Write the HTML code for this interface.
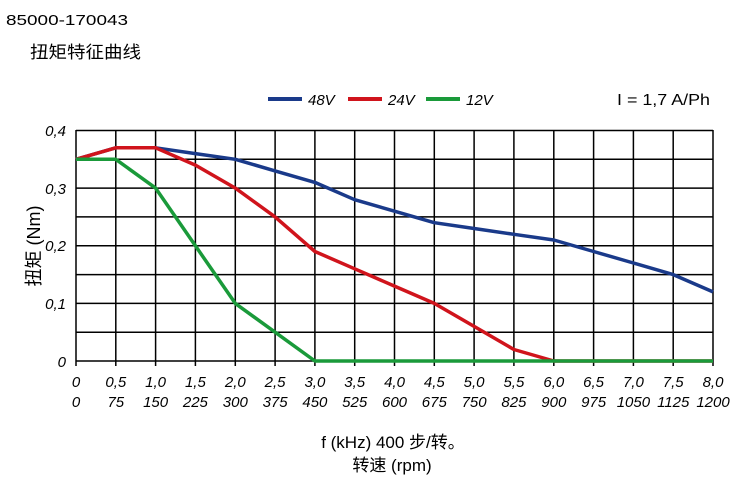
<!DOCTYPE html>
<html><head><meta charset="utf-8"><style>
body{margin:0;background:#fff;}
svg text{font-family:"Liberation Sans","Noto Sans CJK SC",sans-serif;fill:#000;}
.it{font-style:italic;font-size:15px;}
</style></head><body>
<svg width="750" height="493" xmlns="http://www.w3.org/2000/svg">
<text x="6" y="25" font-size="15" textLength="122" lengthAdjust="spacingAndGlyphs">85000-170043</text>
<text x="30" y="58" font-size="17" textLength="111" lengthAdjust="spacingAndGlyphs">扭矩特征曲线</text>
<line x1="268" y1="99" x2="302" y2="99" stroke="#1a3a8a" stroke-width="4"/>
<text x="308" y="105" class="it" font-size="16">48V</text>
<line x1="348" y1="99" x2="382" y2="99" stroke="#d0141c" stroke-width="4"/>
<text x="388" y="105" class="it" font-size="16">24V</text>
<line x1="426" y1="99" x2="460" y2="99" stroke="#1a9a3a" stroke-width="4"/>
<text x="466" y="105" class="it" font-size="16">12V</text>
<text x="617" y="105" font-size="16" textLength="93" lengthAdjust="spacingAndGlyphs">I = 1,7 A/Ph</text>
<g stroke="#000" stroke-width="1.5" fill="none">
<line x1="76" y1="130.5" x2="713" y2="130.5"/>
<line x1="76" y1="159.3" x2="713" y2="159.3"/>
<line x1="76" y1="188.1" x2="713" y2="188.1"/>
<line x1="76" y1="216.9" x2="713" y2="216.9"/>
<line x1="76" y1="245.8" x2="713" y2="245.8"/>
<line x1="76" y1="274.6" x2="713" y2="274.6"/>
<line x1="76" y1="303.4" x2="713" y2="303.4"/>
<line x1="76" y1="332.2" x2="713" y2="332.2"/>
<line x1="76" y1="361" x2="713" y2="361"/>
<line x1="76" y1="130" x2="76" y2="366"/>
<line x1="115.8" y1="130" x2="115.8" y2="366"/>
<line x1="155.6" y1="130" x2="155.6" y2="366"/>
<line x1="195.4" y1="130" x2="195.4" y2="366"/>
<line x1="235.3" y1="130" x2="235.3" y2="366"/>
<line x1="275.1" y1="130" x2="275.1" y2="366"/>
<line x1="314.9" y1="130" x2="314.9" y2="366"/>
<line x1="354.7" y1="130" x2="354.7" y2="366"/>
<line x1="394.5" y1="130" x2="394.5" y2="366"/>
<line x1="434.3" y1="130" x2="434.3" y2="366"/>
<line x1="474.1" y1="130" x2="474.1" y2="366"/>
<line x1="513.9" y1="130" x2="513.9" y2="366"/>
<line x1="553.8" y1="130" x2="553.8" y2="366"/>
<line x1="593.6" y1="130" x2="593.6" y2="366"/>
<line x1="633.4" y1="130" x2="633.4" y2="366"/>
<line x1="673.2" y1="130" x2="673.2" y2="366"/>
<line x1="713" y1="130" x2="713" y2="366"/>
</g>
<g fill="none" stroke-width="3.5" stroke-linejoin="round">
<polyline stroke="#1a3a8a" points="76,159.3 115.8,147.8 155.6,147.8 195.4,153.6 235.3,159.3 275.1,170.9 314.9,182.4 354.7,199.7 394.5,211.2 434.3,222.7 474.1,228.5 513.9,234.3 553.8,240 593.6,251.5 633.4,263 673.2,274.6 713,291.9"/>
<polyline stroke="#d0141c" points="76,159.3 115.8,147.8 155.6,147.8 195.4,165.1 235.3,188.1 275.1,216.9 314.9,251.5 354.7,268.8 394.5,286.1 434.3,303.4 474.1,326.4 513.9,349.5 553.8,361 713,361"/>
<polyline stroke="#1a9a3a" points="76,159.3 115.8,159.3 155.6,188.1 195.4,245.8 235.3,303.4 275.1,332.2 314.9,361 713,361"/>
</g>
<g class="it" text-anchor="end">
<text x="66" y="136">0,4</text>
<text x="66" y="194">0,3</text>
<text x="66" y="251">0,2</text>
<text x="66" y="309">0,1</text>
<text x="66" y="367">0</text>
</g>
<text transform="translate(40,246) rotate(-90)" font-size="18" text-anchor="middle">扭矩 (Nm)</text>
<g class="it" text-anchor="middle">
<text x="76" y="387">0</text><text x="115.8" y="387">0,5</text><text x="155.6" y="387">1,0</text><text x="195.4" y="387">1,5</text><text x="235.3" y="387">2,0</text><text x="275.1" y="387">2,5</text><text x="314.9" y="387">3,0</text><text x="354.7" y="387">3,5</text><text x="394.5" y="387">4,0</text><text x="434.3" y="387">4,5</text><text x="474.1" y="387">5,0</text><text x="513.9" y="387">5,5</text><text x="553.8" y="387">6,0</text><text x="593.6" y="387">6,5</text><text x="633.4" y="387">7,0</text><text x="673.2" y="387">7,5</text><text x="713" y="387">8,0</text>
<text x="76" y="407">0</text><text x="115.8" y="407">75</text><text x="155.6" y="407">150</text><text x="195.4" y="407">225</text><text x="235.3" y="407">300</text><text x="275.1" y="407">375</text><text x="314.9" y="407">450</text><text x="354.7" y="407">525</text><text x="394.5" y="407">600</text><text x="434.3" y="407">675</text><text x="474.1" y="407">750</text><text x="513.9" y="407">825</text><text x="553.8" y="407">900</text><text x="593.6" y="407">975</text><text x="633.4" y="407">1050</text><text x="673.2" y="407">1125</text><text x="713" y="407">1200</text>
</g>
<text x="393" y="448" font-size="17" text-anchor="middle">f (kHz) 400 步/转。</text>
<text x="392" y="471" font-size="17" text-anchor="middle">转速 (rpm)</text>
</svg>
</body></html>
